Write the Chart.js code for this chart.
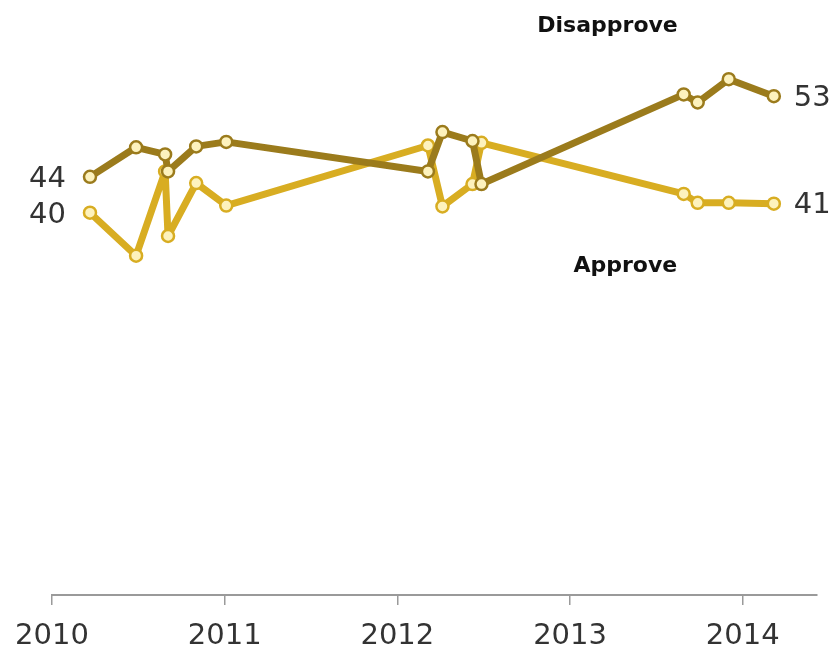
<!DOCTYPE html>
<html>
<head>
<meta charset="utf-8">
<script src="https://cdn.jsdelivr.net/npm/chart.js@4/dist/chart.umd.min.js"></script>
<style>
  html, body { margin: 0; padding: 0; background: #ffffff; }
  #wrap { width: 839px; height: 648px; position: relative; }
</style>
</head>
<body>
<div id="wrap"><canvas id="c" width="839" height="648"></canvas></div>
<script>
// ---- data ----
const years = [2010, 2011, 2012, 2013, 2014];
const surveyDates = [2010.22, 2010.487, 2010.655, 2010.672, 2010.835, 2011.009, 2012.177, 2012.261, 2012.435, 2012.487, 2013.658, 2013.739, 2013.919, 2014.18];
const disapprove = [44, 47.3, 46.5, 44.6, 47.4, 47.9, 44.6, 49, 48, 43.2, 53.2, 52.3, 54.9, 53];
const approve    = [40, 35.2, 44.6, 37.4, 43.3, 40.8, 47.5, 40.7, 43.2, 47.8, 42.1, 41.1, 41.1, 41];
const seriesNames = ['Disapprove', 'Approve'];
const endLabels = { Disapprove: ['44', '53'], Approve: ['40', '41'] };

const dColor = '#9b7b1c';
const aColor = '#d8ad22';
const pointFill = '#fdf2bd';

const toPts = (xs, ys) => xs.map((x, i) => ({ x: x, y: ys[i] }));

const labelPlugin = {
  id: 'labels',
  afterDatasetsDraw(chart) {
    const ctx = chart.ctx;
    const xs = chart.scales.x, ys = chart.scales.y;
    ctx.save();
    chart.data.datasets.forEach((ds) => {
      const first = ds.data[0], last = ds.data[ds.data.length - 1];
      const labs = endLabels[ds.label];
      ctx.font = '29px "DejaVu Sans"';
      ctx.fillStyle = '#333333';
      ctx.textBaseline = 'middle';
      ctx.textAlign = 'right';
      ctx.fillText(labs[0], xs.getPixelForValue(first.x) - 24, ys.getPixelForValue(first.y) + 3);
      ctx.textAlign = 'left';
      ctx.fillText(labs[1], xs.getPixelForValue(last.x) + 20, ys.getPixelForValue(last.y) + 2);
    });
    ctx.font = 'bold 22px "DejaVu Sans"';
    ctx.fillStyle = '#111111';
    ctx.textAlign = 'center';
    ctx.textBaseline = 'middle';
    ctx.fillText(seriesNames[0], xs.getPixelForValue(2013.217), ys.getPixelForValue(60.75));
    ctx.fillText(seriesNames[1], xs.getPixelForValue(2013.32), ys.getPixelForValue(34.0));
    ctx.restore();
  }
};

const common = {
  borderWidth: 7,
  borderJoinStyle: 'round',
  borderCapStyle: 'round',
  pointRadius: 6,
  pointBorderWidth: 2.5,
  pointBackgroundColor: pointFill,
  tension: 0,
  clip: false
};

new Chart(document.getElementById('c'), {
  type: 'line',
  data: {
    datasets: [
      Object.assign({
        label: 'Disapprove',
        data: toPts(surveyDates, disapprove),
        borderColor: dColor,
        pointBorderColor: dColor
      }, common),
      Object.assign({
        label: 'Approve',
        data: toPts(surveyDates, approve),
        borderColor: aColor,
        pointBorderColor: aColor
      }, common)
    ]
  },
  options: {
    responsive: false,
    animation: false,
    devicePixelRatio: 1,
    layout: { padding: { left: 52, right: 22, top: 0, bottom: 0 } },
    plugins: { legend: { display: false }, tooltip: { enabled: false } },
    scales: {
      x: {
        type: 'linear',
        min: 2010,
        max: 2014.43,
        afterBuildTicks: (scale) => {
          scale.ticks = years.map(v => ({ value: v }));
        },
        afterFit: (scale) => { scale.height = 53; },
        ticks: {
          stepSize: 1,
          autoSkip: false,
          maxRotation: 0,
          padding: 14,
          color: '#333333',
          font: { family: 'DejaVu Sans', size: 29 },
          callback: (v) => String(v)
        },
        grid: {
          drawOnChartArea: false,
          drawTicks: true,
          tickLength: 10,
          color: '#9a9a9a',
          lineWidth: 1.5
        },
        border: { display: true, color: '#9a9a9a', width: 2 }
      },
      y: {
        display: false,
        min: -2.67,
        max: 62.79
      }
    }
  },
  plugins: [labelPlugin]
});
</script>
</body>
</html>
